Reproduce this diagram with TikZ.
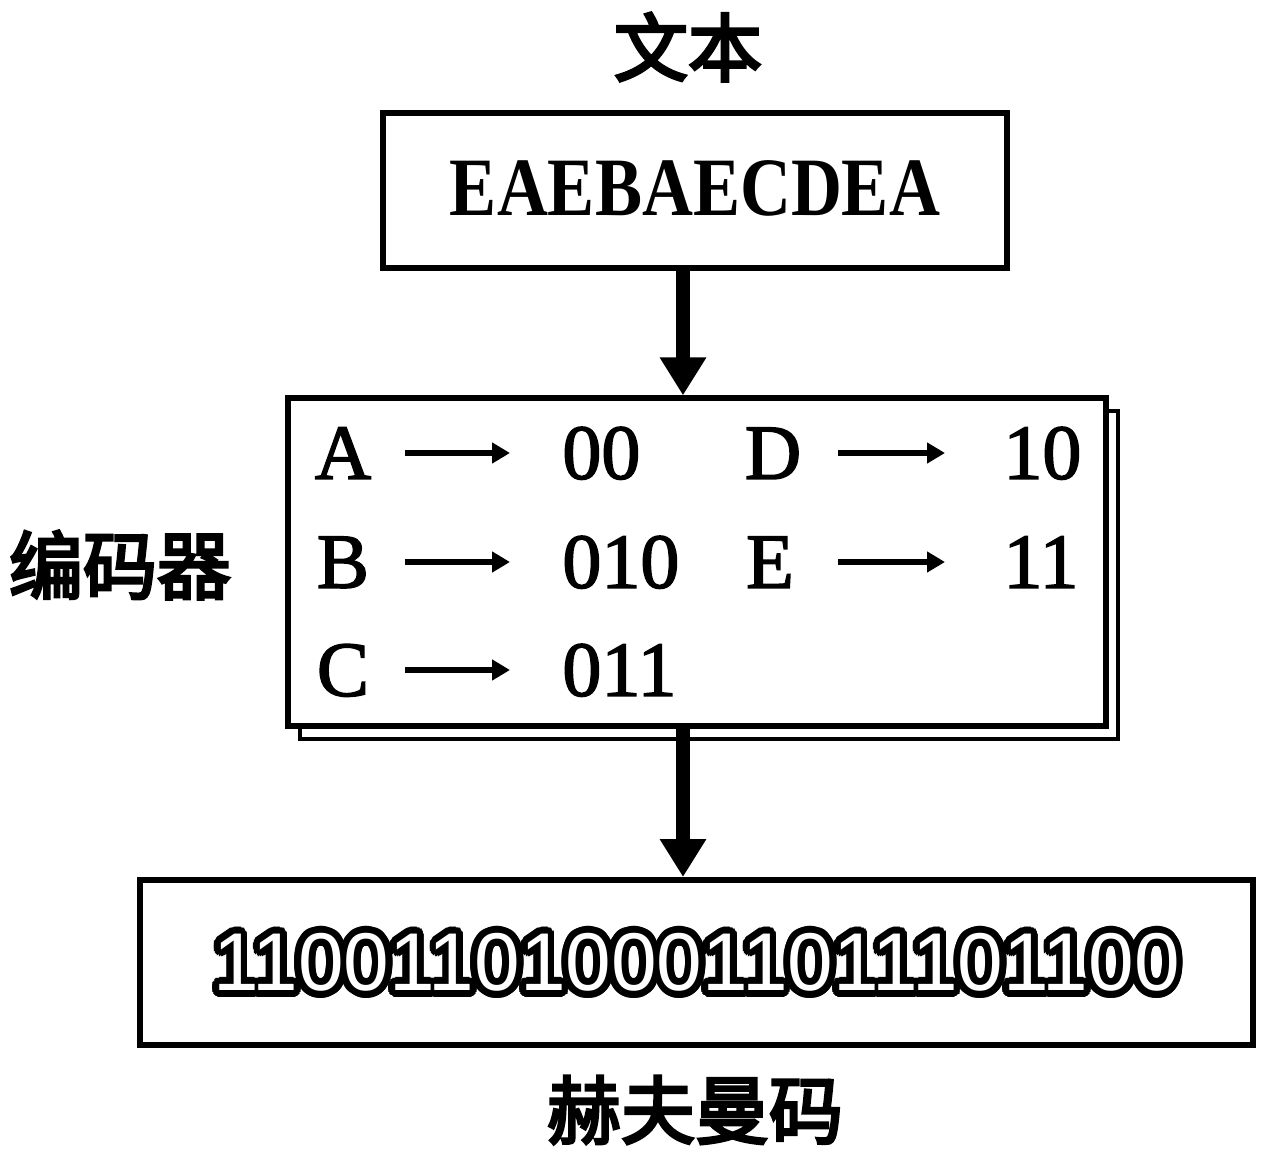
\documentclass[tikz,border=0pt]{standalone}
\usepackage{fontspec}
\setmainfont{Liberation Serif}
\newfontfamily\tabfont[FakeBold=2]{Liberation Serif}
\newfontfamily\cjk[FakeBold=4]{Noto Sans CJK SC}
\newfontfamily\binfont{Liberation Sans}
\usetikzlibrary{arrows.meta,calc}
\begin{document}
\begin{tikzpicture}[x=0.5pt,y=-0.5pt,
  box/.style={draw, line width=2.6pt, inner sep=0pt, fill=white},
  bigarrow/.style={line width=7pt, -{Triangle[width=22pt,length=19pt]}},
  smallarrow/.style={line width=3pt, -{Triangle[width=10pt,length=9pt]}},
  tab/.style={inner sep=0pt, font=\tabfont\fontsize{39pt}{42pt}\selectfont, text height=25.8pt, text depth=0pt},
  letter/.style={tab, minimum width=30pt},
  code/.style={tab, anchor=west},
  cjklabel/.style={font=\cjk\fontsize{37pt}{40pt}\selectfont, inner sep=0pt},
  bin/.style={inner sep=0pt, font=\binfont\fontsize{41pt}{44pt}\selectfont}
]
\useasboundingbox (0,0) rectangle (1275,1161);
\fill[white] (0,0) rectangle (1275,1161);

% title and text box
\node[cjklabel] (title) at (688,47) {文本};
\node[box, minimum width=312pt, minimum height=77.5pt] (text) at (695,190.5) {};
\node[font=\bfseries\fontsize{41.5pt}{44pt}\selectfont, xscale=0.85, inner sep=0pt] (textstr) at (695,188) {EAEBAECDEA};

% encoder box with shadow
\node[draw, line width=2pt, minimum width=409pt, minimum height=164pt] (encshadow) at (709,575) {};
\node[box, minimum width=409pt, minimum height=164pt] (enc) at (697,562) {};
\node[cjklabel] (enclabel) at (120,565) {编码器};

% table
\node[letter] (lA) at (343,453) {A};
\node[code] (cA) at (562,453) {00};
\node[letter] (lB) at (343,562) {B};
\node[code] (cB) at (562,562) {010};
\node[letter] (lC) at (343,670) {C};
\node[code] (cC) at (562,670) {011};
\node[letter] (lD) at (773,453) {D};
\node[code] (cD) at (1003,453) {10};
\node[letter] (lE) at (770,562) {E};
\node[code] (cE) at (1003,562) {11};
\draw[smallarrow, shorten <=16pt, shorten >=26pt] (lA.east) -- (cA.west);
\draw[smallarrow, shorten <=16pt, shorten >=26pt] (lB.east) -- (cB.west);
\draw[smallarrow, shorten <=16pt, shorten >=26pt] (lC.east) -- (cC.west);
\draw[smallarrow, shorten <=17.5pt, shorten >=29pt] (lD.east) -- (cD.west);
\draw[smallarrow, shorten <=19pt, shorten >=29pt] (lE.east) -- (cE.west);

% output box with outlined code
\node[box, line width=3pt, minimum width=556.5pt, minimum height=82.5pt] (out) at (696.5,962.5) {};
\foreach \r in {1.2pt,2.4pt,3.4pt}{
  \foreach \a in {0,15,...,345}{
    \node[bin, text=black] at ($(out.center)+(\a:\r)$) {1100110100011011101100};
  }
}
\node[bin, text=white] (bits) at (out.center) {1100110100011011101100};
\node[cjklabel] (outlabel) at (695,1110) {赫夫曼码};

% connectors
\coordinate (ax) at (683,0);
\draw[bigarrow] (text.south -| ax) -- (enc.north -| ax);
\draw[bigarrow] (enc.south -| ax) -- (out.north -| ax);
\end{tikzpicture}
\end{document}
